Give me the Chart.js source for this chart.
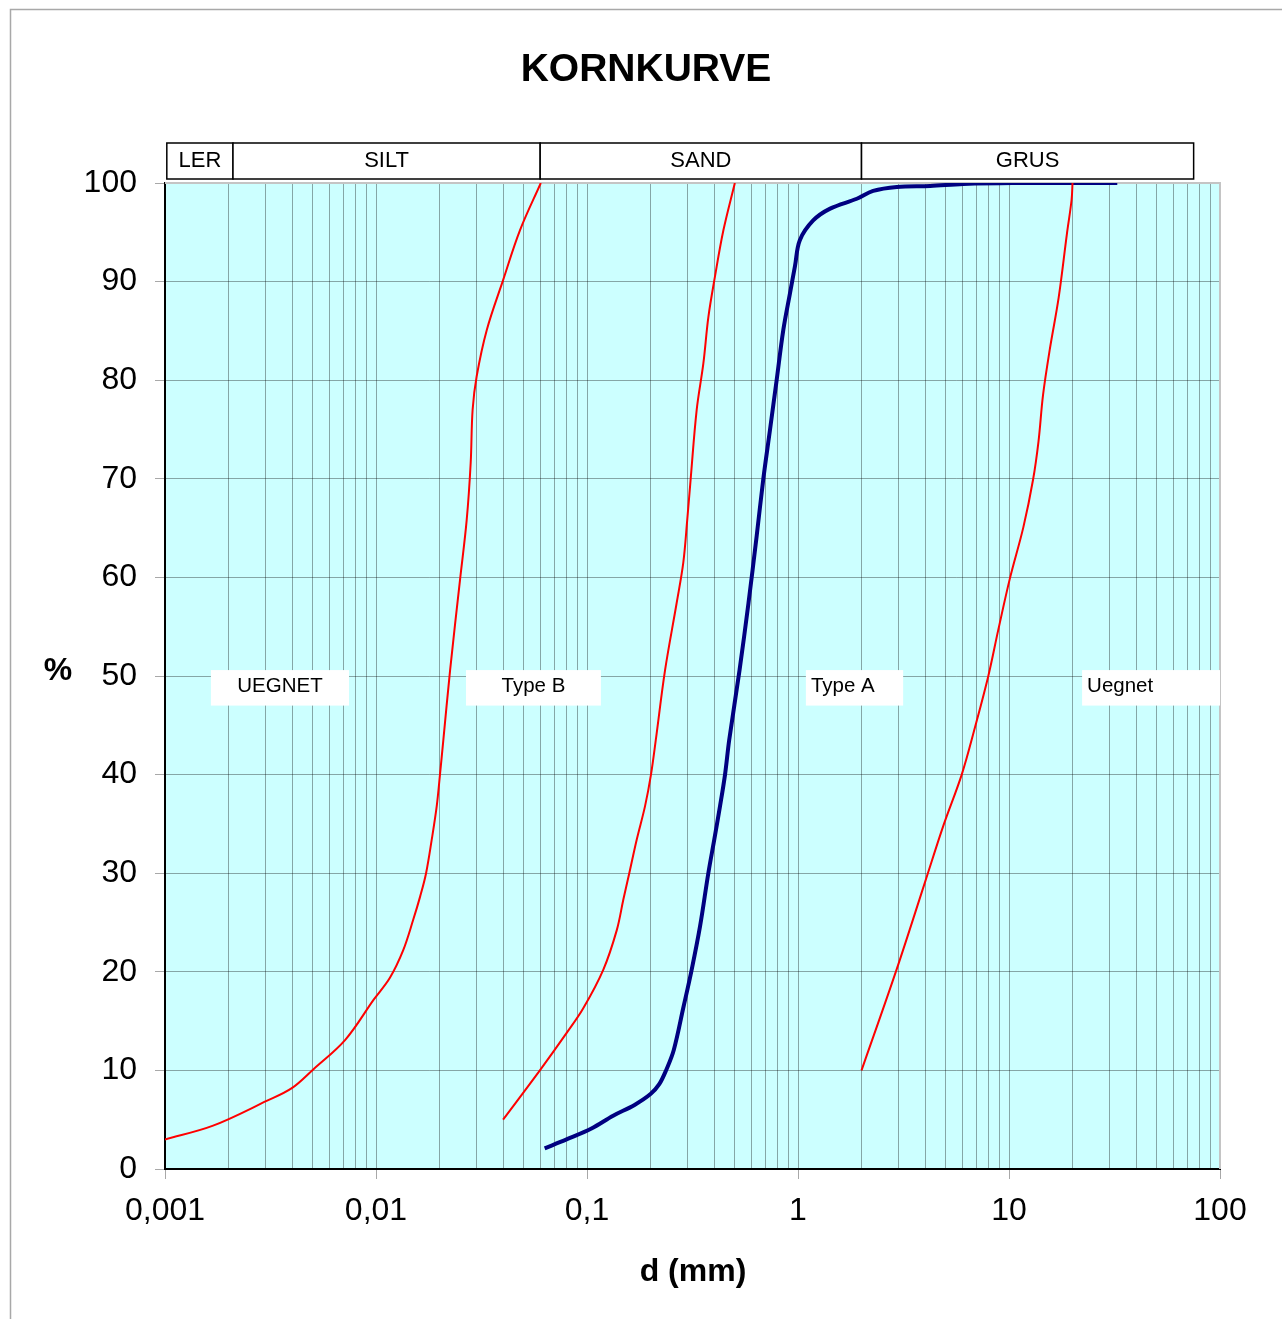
<!DOCTYPE html>
<html lang="no">
<head>
  <meta charset="UTF-8">
  <title>Kornkurve</title>
  <style>
    html, body { margin: 0; padding: 0; background: #fff; }
    #wrap { position: relative; width: 1282px; height: 1319px; }
  </style>
</head>
<body>
  <div id="wrap">
    <canvas id="chart" width="1282" height="1319"></canvas>
  </div>

  <script src="https://cdn.jsdelivr.net/npm/chart.js@4.4.1/dist/chart.umd.min.js"></script>
  <script>
    // grain size (mm) and percent passing
    const limitFineD = [0.001, 0.00169, 0.00303, 0.00399, 0.00504, 0.00715, 0.00977, 0.01164, 0.01346, 0.01502, 0.01617, 0.01727, 0.01837, 0.0194, 0.0201, 0.02085, 0.02245, 0.025, 0.0269, 0.0281, 0.0287, 0.030, 0.0335, 0.0401, 0.0481, 0.0604];
    const limitFineP = [3.0, 4.4, 6.9, 8.2, 10.1, 13.1, 17.2, 19.4, 22.2, 25.3, 27.6, 30, 33.4, 36.8, 40, 43.5, 50.6, 59.7, 65.8, 71.6, 77, 80.4, 85.1, 90.2, 95.2, 100];

    const limitMidD = [0.040, 0.0598, 0.0801, 0.0960, 0.1194, 0.1383, 0.1486, 0.1586, 0.172, 0.1884, 0.201, 0.2118, 0.2344, 0.266, 0.286, 0.2985, 0.31, 0.331, 0.356, 0.376, 0.404, 0.443, 0.502];
    const limitMidP = [5.0, 10, 13.8, 16.3, 20.2, 24.2, 27.3, 30, 33.4, 36.8, 40, 43.5, 50.6, 57.4, 61.5, 65.8, 70, 77, 81.7, 86.4, 90.5, 95.2, 100];

    const sampleD = [0.063, 0.080, 0.105, 0.133, 0.168, 0.200, 0.220, 0.238, 0.258, 0.2857, 0.3133, 0.3433, 0.3758, 0.401, 0.427, 0.451, 0.472, 0.5284, 0.5826, 0.637, 0.685, 0.737, 0.792, 0.852, 0.916, 0.968, 1.02, 1.18, 1.42, 1.90, 2.27, 2.94, 4.23, 6.07, 10.4, 32.6];
    const sampleP = [2.1, 3.0, 4.1, 5.4, 6.5, 7.6, 8.6, 10.1, 12.1, 16.3, 20.2, 24.6, 30, 33.4, 36.8, 40, 43.5, 50.6, 57.4, 64.2, 70, 75, 80, 85.1, 88.8, 91.6, 94.2, 96.2, 97.4, 98.4, 99.2, 99.6, 99.7, 99.9, 100, 100];

    const limitCoarseD = [2.0, 2.94, 4.0, 4.9, 5.97, 6.9, 7.98, 8.9, 10.1, 11.7, 13.0, 13.8, 14.5, 15.6, 17.2, 18.8, 19.8, 20.0];
    const limitCoarseP = [10, 20.3, 29.1, 34.9, 40, 44.8, 50, 54.7, 59.9, 65.1, 69.9, 73.8, 78.5, 83.1, 88.4, 94.8, 98.3, 100];

    const xTickValues = [0.001, 0.01, 0.1, 1, 10, 100];
    const xTickLabels = ['0,001', '0,01', '0,1', '1', '10', '100'];

    // soil classes in the header row
    const zoneNames = ['LER', 'SILT', 'SAND', 'GRUS'];
    const zoneBounds = [0.00102, 0.0021, 0.06, 2, 75];

    // area labels at 50 %
    const areaNames = ['UEGNET', 'Type B', 'Type A', 'Uegnet'];
    const areaFrom = [0.00165, 0.0267, 1.09, 22.2];
    const areaTo = [0.00745, 0.1164, 3.15, 100];
    const areaAlign = ['center', 'center', 'left', 'left'];

    const FONT = "'Liberation Sans', Arial, sans-serif";

    const pts = (d, p) => d.map((v, i) => ({ x: v, y: p[i] }));

    // vertical grid: 1..9 in every decade
    const xGrid = [];
    for (let e = -3; e <= 2; e++) {
      for (let m = 1; m <= 9; m++) {
        if (e === 2 && m > 1) break;
        xGrid.push(+(m * Math.pow(10, e)).toPrecision(3));
      }
    }

    function isDecade(v) {
      const l = Math.log10(v);
      return Math.abs(l - Math.round(l)) < 1e-6;
    }

    const decor = {
      id: 'decor',
      beforeDraw(chart) {
        const { ctx, chartArea: a } = chart;
        ctx.save();
        ctx.fillStyle = '#CCFFFF';
        ctx.fillRect(a.left, a.top, a.right - a.left, a.bottom - a.top);
        // outer frame
        ctx.strokeStyle = '#a8a8a8';
        ctx.lineWidth = 1.5;
        ctx.beginPath();
        ctx.moveTo(10.5, 1319);
        ctx.lineTo(10.5, 9.5);
        ctx.lineTo(1282, 9.5);
        ctx.stroke();
        ctx.restore();
      },
      beforeDatasetsDraw(chart) {
        const { ctx, chartArea: a } = chart;
        // grey top/right border of plot, under the curves
        ctx.save();
        ctx.strokeStyle = '#c4c4c4';
        ctx.lineWidth = 2;
        ctx.beginPath();
        ctx.moveTo(a.left, a.top);
        ctx.lineTo(a.right, a.top);
        ctx.lineTo(a.right, a.bottom);
        ctx.stroke();
        ctx.restore();
      },
      afterDraw(chart) {
        const { ctx, chartArea: a, scales } = chart;
        const xs = scales.x, ys = scales.y;
        ctx.save();

        // title
        ctx.fillStyle = '#000';
        ctx.textAlign = 'center';
        ctx.textBaseline = 'middle';
        ctx.font = 'bold 39px ' + FONT;
        ctx.fillText('KORNKURVE', 646, 70);

        // axis titles
        ctx.font = 'bold 32px ' + FONT;
        ctx.fillText('%', 58, 671);
        ctx.fillText('d (mm)', 693, 1272);

        // header boxes
        ctx.font = '22px ' + FONT;
        ctx.lineWidth = 1.5;
        ctx.strokeStyle = '#000';
        for (let i = 0; i < zoneNames.length; i++) {
          const x0 = xs.getPixelForValue(zoneBounds[i]);
          const x1 = xs.getPixelForValue(zoneBounds[i + 1]);
          ctx.fillStyle = '#fff';
          ctx.fillRect(x0, 143, x1 - x0, 36);
          ctx.strokeRect(x0, 143, x1 - x0, 36);
          ctx.fillStyle = '#000';
          ctx.fillText(zoneNames[i], (x0 + x1) / 2, 161);
        }

        // area label boxes
        ctx.font = '20.5px ' + FONT;
        const yTop = ys.getPixelForValue(50.6);
        const yBot = ys.getPixelForValue(47);
        for (let i = 0; i < areaNames.length; i++) {
          const x0 = xs.getPixelForValue(areaFrom[i]);
          const x1 = Math.min(xs.getPixelForValue(areaTo[i]), a.right + 1);
          ctx.fillStyle = '#fff';
          ctx.fillRect(x0, yTop, x1 - x0, yBot - yTop);
          ctx.fillStyle = '#000';
          ctx.textAlign = areaAlign[i];
          const tx = areaAlign[i] === 'center' ? (x0 + x1) / 2 : x0 + 5;
          ctx.fillText(areaNames[i], tx, (yTop + yBot) / 2 - 1);
        }
        ctx.restore();
      }
    };

    const redLine = {
      borderColor: '#FF0000',
      borderWidth: 2,
      pointRadius: 0,
      showLine: true,
      tension: 0.35
    };

    new Chart(document.getElementById('chart'), {
      type: 'scatter',
      data: {
        datasets: [
          Object.assign({ label: 'Grense UEGNET / Type B', data: pts(limitFineD, limitFineP) }, redLine),
          Object.assign({ label: 'Grense Type B / Type A', data: pts(limitMidD, limitMidP) }, redLine),
          Object.assign({ label: 'Grense Type A / Uegnet', data: pts(limitCoarseD, limitCoarseP) }, redLine),
          {
            label: 'Kornkurve',
            data: pts(sampleD, sampleP),
            borderColor: '#000080',
            borderWidth: 4,
            pointRadius: 0,
            showLine: true,
            tension: 0.35
          }
        ]
      },
      options: {
        responsive: false,
        animation: false,
        events: [],
        layout: { padding: { top: 183, right: 62, left: 0, bottom: 0 } },
        plugins: {
          legend: { display: false },
          tooltip: { enabled: false }
        },
        scales: {
          x: {
            type: 'logarithmic',
            min: 0.001,
            max: 100,
            afterBuildTicks: scale => { scale.ticks = xGrid.map(v => ({ value: v })); },
            afterFit: scale => { scale.height = 150; },
            ticks: {
              autoSkip: false,
              maxRotation: 0,
              color: '#000',
              padding: 13,
              font: { family: FONT, size: 32 },
              callback: v => {
                const i = xTickValues.findIndex(t => Math.abs(Math.log10(t) - Math.log10(v)) < 1e-6);
                return i >= 0 ? xTickLabels[i] : '';
              }
            },
            grid: {
              color: 'rgba(0,0,0,0.35)',
              lineWidth: 1,
              tickLength: 10,
              tickColor: c => (c.tick && isDecade(c.tick.value)) ? '#a8a8a8' : 'rgba(0,0,0,0)'
            },
            border: { color: '#000', width: 2 }
          },
          y: {
            min: 0,
            max: 100,
            afterFit: scale => { scale.width = 165; },
            ticks: {
              stepSize: 10,
              color: '#000',
              padding: 18,
              font: { family: FONT, size: 32 }
            },
            grid: {
              color: 'rgba(0,0,0,0.35)',
              lineWidth: 1,
              tickLength: 10,
              tickColor: '#a8a8a8'
            },
            border: { color: '#000', width: 2 }
          }
        }
      },
      plugins: [decor]
    });
  </script>
</body>
</html>
